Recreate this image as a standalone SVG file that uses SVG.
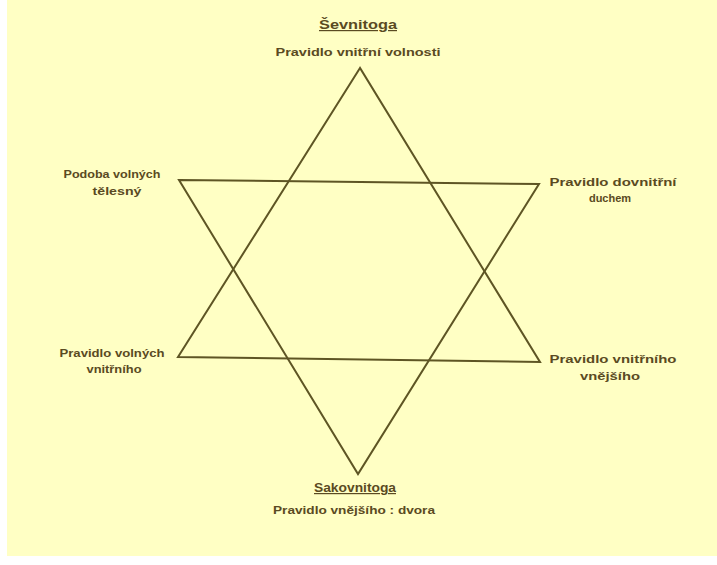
<svg xmlns="http://www.w3.org/2000/svg" width="717" height="565" viewBox="0 0 717 565">
<style>
.bg{fill:#ffffc4}
.ln{fill:none;stroke:#5e5524;stroke-width:2;stroke-linejoin:miter}
.t{font-family:"Liberation Sans",Arial,sans-serif;font-size:11px;font-weight:bold;fill:#5a4a22;text-anchor:middle}
.h{font-family:"Liberation Sans",Arial,sans-serif;font-size:12px;font-weight:bold;fill:#5a4a22;text-anchor:middle;text-decoration:underline}
</style>
<rect x="0" y="0" width="717" height="565" fill="#ffffff"/>
<rect class="bg" x="7" y="0" width="710" height="556"/>
<g id="connectors">
<polygon class="ln" points="179,180 539,184 358,474"/>
<polygon class="ln" points="360,68 178,357 540,362"/>
</g>
<g id="node-top">
<text class="h" x="358" y="29" textLength="78" lengthAdjust="spacingAndGlyphs">Ševnitoga</text>
<text class="t" x="358" y="56" textLength="165" lengthAdjust="spacingAndGlyphs">Pravidlo vnitřní volnosti</text>
</g>
<g id="node-left-upper">
<text class="t" x="112" y="178" textLength="97" lengthAdjust="spacingAndGlyphs">Podoba volných</text>
<text class="t" x="117" y="195" textLength="49" lengthAdjust="spacingAndGlyphs">tělesný</text>
</g>
<g id="node-right-upper">
<text class="t" x="613" y="186" textLength="127" lengthAdjust="spacingAndGlyphs">Pravidlo dovnitřní</text>
<text class="t" x="610" y="202">duchem</text>
</g>
<g id="node-left-lower">
<text class="t" x="112" y="357" textLength="105" lengthAdjust="spacingAndGlyphs">Pravidlo volných</text>
<text class="t" x="114" y="373" textLength="55" lengthAdjust="spacingAndGlyphs">vnitřního</text>
</g>
<g id="node-right-lower">
<text class="t" x="613" y="363" textLength="127" lengthAdjust="spacingAndGlyphs">Pravidlo vnitřního</text>
<text class="t" x="610" y="380" textLength="60" lengthAdjust="spacingAndGlyphs">vnějšího</text>
</g>
<g id="node-bottom">
<text class="h" x="355" y="492" textLength="82" lengthAdjust="spacingAndGlyphs">Sakovnitoga</text>
<text class="t" x="354" y="514" textLength="162" lengthAdjust="spacingAndGlyphs">Pravidlo vnějšího : dvora</text>
</g>
</svg>
